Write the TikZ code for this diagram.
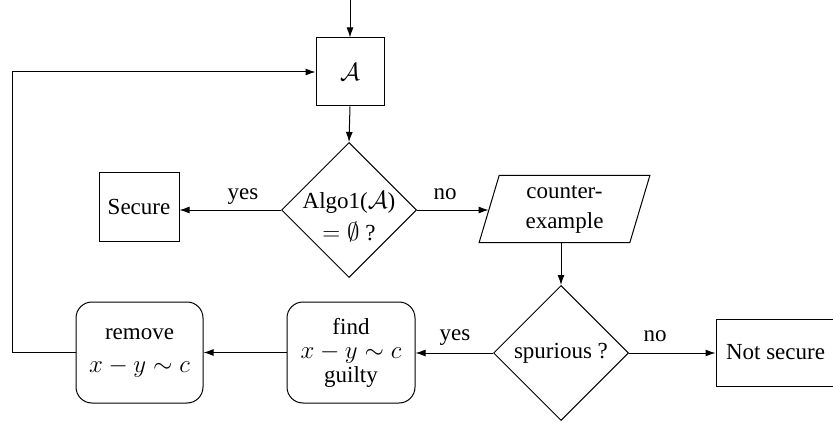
\documentclass[tikz,border=0pt]{standalone}
\usepackage{fontspec}
\setmainfont{Liberation Serif}
\usetikzlibrary{shapes.geometric,arrows.meta}
\DeclareMathSizes{23}{24.88}{17.28}{14.4}

\begin{document}
\begin{tikzpicture}[x=1pt,y=-1pt,
  every node/.style={font=\fontsize{23}{28}\selectfont},
  line/.style={line width=1pt},
  arr/.style={line, -{Latex[length=10pt,width=7pt]}},
  box/.style={draw, line width=1pt, rectangle, inner sep=0pt, align=center},
  rbox/.style={box, rounded corners=16pt},
  decision/.style={draw, line width=1pt, diamond, aspect=1, inner sep=0pt,
    minimum width=135pt, minimum height=135pt, align=center},
  io/.style={draw, line width=1pt, trapezium, trapezium left angle=76,
    trapezium right angle=104, trapezium stretches=true, inner sep=0pt,
    minimum width=171pt, minimum height=67pt, align=center},
  lbl/.style={anchor=base}]
  \useasboundingbox (0,0) rectangle (833,425);

  % main chain
  \node[box, minimum width=68pt, minimum height=68pt] (A) at (350,72) {$\mathcal{A}$};
  \node[decision, label={[align=center, yshift=-7pt]center:Algo1($\mathcal{A}$)\\[4pt]$=\emptyset$ ?}]
    (d1) at (349,210) {};
  \node[box, minimum width=80pt, minimum height=68pt] (sec) at (139,207) {Secure};
  \node[io] (cex) at (564.5,209) {counter-\\[2pt]example};
  \node[decision] (d2) at (561,353) {spurious ?};
  \node[box, minimum width=119pt, minimum height=67pt] (nsec) at (775.5,352.5) {Not secure};
  \node[rbox, minimum width=128pt, minimum height=101pt] (find) at (351,352.5)
    {find\\[-4pt]$x-y\sim c$\\[-4pt]guilty};
  \node[rbox, minimum width=127pt, minimum height=101pt] (rem) at (139.5,352.5)
    {remove\\[5pt]$x-y\sim c$};

  % entry and feedback corner
  \coordinate (in) at (350,-2);
  \coordinate (fb) at (12,352.5);

  % connectors
  \draw[arr] (in) -- (A.north);
  \draw[arr] (A.south) -- (d1.north);
  \draw[arr] (d1.west) -- (d1.west -| sec.east);
  \draw[arr] (d1.east) -- (d1.east -| cex.west);
  \draw[arr] (d2.north |- cex.south) -- (d2.north);
  \draw[arr] (d2.east) -- (d2.east -| nsec.west);
  \draw[arr] (d2.west) -- (d2.west -| find.east);
  \draw[arr] (find.west) -- (find.west -| rem.east);
  \draw[arr] (rem.west) -- (fb) |- (A.west);

  % branch labels
  \node[lbl] (y1) at (243,200) {yes};
  \node[lbl] (n1) at (445,200) {no};
  \node[lbl] (y2) at (455,340) {yes};
  \node[lbl] (n2) at (655,341) {no};
\end{tikzpicture}
\end{document}
